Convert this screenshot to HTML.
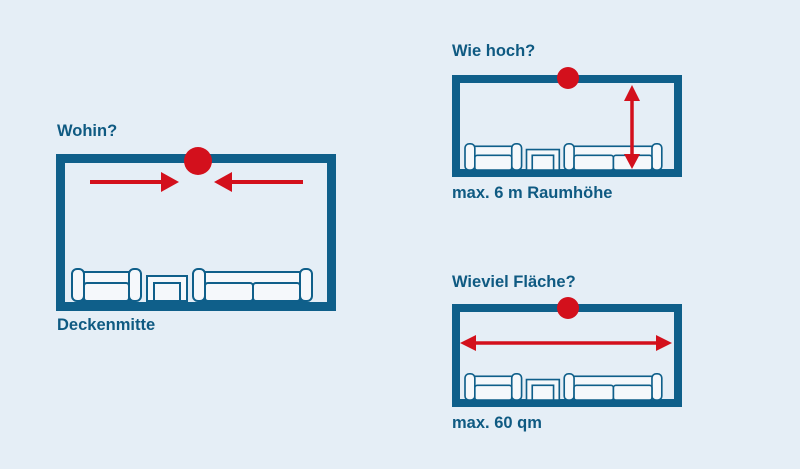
<!DOCTYPE html>
<html><head><meta charset="utf-8"><style>
html,body{margin:0;padding:0}
body{width:800px;height:469px;background:#e5eef6;overflow:hidden;position:relative;font-family:"Liberation Sans",sans-serif}
.t{position:absolute;color:#0f5a82;font-weight:bold;font-size:16.5px;white-space:nowrap}
svg{position:absolute;left:0;top:0}
</style></head><body>
<svg width="800" height="469" viewBox="0 0 800 469">
<defs>
<g id="furn" stroke="#0f5f8a" stroke-width="2" fill="#f5f8fb">
<rect x="6" y="4" width="57" height="29"/>
<rect x="0" y="1" width="12" height="32" rx="5"/>
<rect x="57" y="1" width="12" height="32" rx="5"/>
<rect x="12" y="15" width="45" height="18" rx="3"/>
<rect x="75" y="8" width="40" height="25"/>
<rect x="82" y="15" width="26" height="18"/>
<rect x="127" y="4" width="107" height="29"/>
<rect x="121" y="1" width="12" height="32" rx="5"/>
<rect x="228" y="1" width="12" height="32" rx="5"/>
<rect x="133" y="15" width="48" height="18" rx="3"/>
<rect x="181" y="15" width="47" height="18" rx="3"/>
</g>
</defs>
<!-- left -->
<rect x="60.5" y="158.5" width="271" height="148" fill="none" stroke="#0f5f8a" stroke-width="9"/>
<use href="#furn" transform="translate(72,268)"/>
<circle cx="198" cy="161" r="14" fill="#d3101c"/>
<line x1="90" y1="182" x2="164" y2="182" stroke="#d3101c" stroke-width="4"/>
<polygon points="161,172 179,182 161,192" fill="#d3101c"/>
<line x1="303" y1="182" x2="229" y2="182" stroke="#d3101c" stroke-width="4"/>
<polygon points="232,172 214,182 232,192" fill="#d3101c"/>
<!-- top right -->
<rect x="456" y="79" width="222" height="94" fill="none" stroke="#0f5f8a" stroke-width="8"/>
<use href="#furn" transform="translate(465,143) scale(0.82)"/>
<circle cx="568" cy="78" r="11" fill="#d3101c"/>
<line x1="632" y1="98" x2="632" y2="157" stroke="#d3101c" stroke-width="3.5"/>
<polygon points="624,101 632,85 640,101" fill="#d3101c"/>
<polygon points="624,154 632,169 640,154" fill="#d3101c"/>
<!-- bottom right -->
<rect x="456" y="308" width="222" height="95" fill="none" stroke="#0f5f8a" stroke-width="8"/>
<use href="#furn" transform="translate(465,373) scale(0.82)"/>
<circle cx="568" cy="308" r="11" fill="#d3101c"/>
<line x1="472" y1="343" x2="660" y2="343" stroke="#d3101c" stroke-width="3.5"/>
<polygon points="476,335 460,343 476,351" fill="#d3101c"/>
<polygon points="656,335 672,343 656,351" fill="#d3101c"/>
</svg>
<div class="t" style="left:57px;top:122px">Wohin?</div>
<div class="t" style="left:57px;top:316px">Deckenmitte</div>
<div class="t" style="left:452px;top:42px">Wie hoch?</div>
<div class="t" style="left:452px;top:184px">max. 6 m Raumhöhe</div>
<div class="t" style="left:452px;top:273px">Wieviel Fläche?</div>
<div class="t" style="left:452px;top:414px">max. 60 qm</div>
</body></html>
